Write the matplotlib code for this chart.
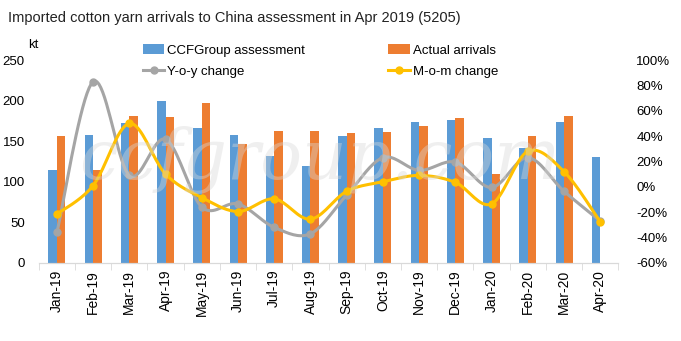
import numpy as np
import matplotlib.pyplot as plt
from matplotlib.lines import Line2D
from matplotlib.ticker import FixedLocator, FuncFormatter

months = ["Jan-19", "Feb-19", "Mar-19", "Apr-19", "May-19", "Jun-19", "Jul-19", "Aug-19",
          "Sep-19", "Oct-19", "Nov-19", "Dec-19", "Jan-20", "Feb-20", "Mar-20", "Apr-20"]
ccf = [115, 157, 173, 200, 166, 158, 132, 120, 156, 166, 174, 176, 154, 142, 174, 131]
actual = [156, 115, 181, 180, 197, 146, 162, 162, 160, 161, 169, 179, 110, 156, 181, None]
yoy = [-36, 83, 9, 37.5, -16, -13.5, -32, -37, -6.5, 23, 13, 19.5, -0.5, 23, -3.5, -27]
mom = [-21.5, 1, 50, 10, -8.5, -19.5, -9.5, -25.5, -3.5, 4, 9, 3.5, -13.5, 28, 12, -27.5]

plt.rcParams['font.family'] = ['Liberation Sans', 'DejaVu Sans']


def smooth(x, y, n=20):
    # catmull-rom style curve like excel's smoothed line
    x = np.asarray(x, float)
    y = np.asarray(y, float)
    px = np.concatenate([[x[0]], x, [x[-1]]])
    py = np.concatenate([[y[0]], y, [y[-1]]])
    xs, ys = [], []
    t = np.linspace(0, 1, n)
    for i in range(1, len(px) - 2):
        p0, p1, p2, p3 = [np.array([px[j], py[j]]) for j in (i - 1, i, i + 1, i + 2)]
        c1 = p1 + (p2 - p0) / 6
        c2 = p2 - (p3 - p1) / 6
        pts = ((1 - t) ** 3)[:, None] * p1 + (3 * (1 - t) ** 2 * t)[:, None] * c1 \
            + (3 * (1 - t) * t ** 2)[:, None] * c2 + (t ** 3)[:, None] * p2
        xs.extend(pts[:, 0])
        ys.extend(pts[:, 1])
    return xs, ys


fig = plt.figure(figsize=(6.81, 3.41), dpi=100)
ax = fig.add_axes([0.057, 0.229, 0.851, 0.595])
ax2 = ax.twinx()

fig.text(0.47, 0.53, "ccfgroup.com", fontsize=50, family='DejaVu Serif', style='italic',
         color='#D8D8D8', alpha=0.4, ha='center', va='center', zorder=0)

x = np.arange(len(months))
w = 0.235
b1 = ax.bar(x - w / 2, ccf, w, color='#5B9BD5', zorder=2)
act = [np.nan if v is None else v for v in actual]
b2 = ax.bar(x + w / 2, act, w, color='#ED7D31', zorder=2)

gray = '#A5A5A5'
gold = '#FFC000'
sx, sy = smooth(x, yoy)
ax2.plot(sx, sy, color=gray, lw=2.2, zorder=3)
ax2.plot(x, yoy, color=gray, marker='o', ms=5, linestyle='none', zorder=3)
sx, sy = smooth(x, mom)
ax2.plot(sx, sy, color=gold, lw=2.2, zorder=4)
ax2.plot(x, mom, color=gold, marker='o', ms=5, linestyle='none', zorder=5)

ax.set_xlim(-0.5, len(months) - 0.5)
ax.set_ylim(0, 250)
ax.set_yticks(range(0, 251, 50))
ax2.set_ylim(-60, 100)
ax2.set_yticks(range(-60, 101, 20))
ax2.yaxis.set_major_formatter(FuncFormatter(lambda v, p: f"{int(v)}%"))

ax.set_xticks(x)
ax.set_xticklabels(months, rotation=90, fontsize=10)
ax.xaxis.set_minor_locator(FixedLocator(np.arange(-0.5, len(months), 1)))
ax.tick_params(axis='x', which='major', length=0, pad=5)
ax.tick_params(axis='x', which='minor', length=5, color='#D9D9D9')
ax.tick_params(axis='y', length=0, labelsize=9.5, pad=10)
ax2.tick_params(axis='y', length=0, labelsize=9.5, pad=13)

for a in (ax, ax2):
    for s in ('top', 'left', 'right'):
        a.spines[s].set_visible(False)
    a.spines['bottom'].set_color('#D9D9D9')

fig.text(0.012, 0.947, "Imported cotton yarn arrivals to China assessment in Apr 2019 (5205)",
         fontsize=10.5, va='center', ha='left', color='#222222')
fig.text(0.041, 0.868, "kt", fontsize=9.5, ha='left', va='center')

h_yoy = Line2D([], [], color=gray, lw=2.2, marker='o', ms=5)
h_mom = Line2D([], [], color=gold, lw=2.2, marker='o', ms=5)
fig.legend([b1, h_yoy, b2, h_mom], ['CCFGroup assessment', 'Y-o-y change', 'Actual arrivals', 'M-o-m change'],
           ncol=2, loc='upper left', bbox_to_anchor=(0.21, 0.87), frameon=False, fontsize=9.5,
           columnspacing=6.3, handlelength=1.6, labelspacing=0.7, handletextpad=0.25,
           borderpad=0, borderaxespad=0)

fig.savefig('out.png', dpi=100)
